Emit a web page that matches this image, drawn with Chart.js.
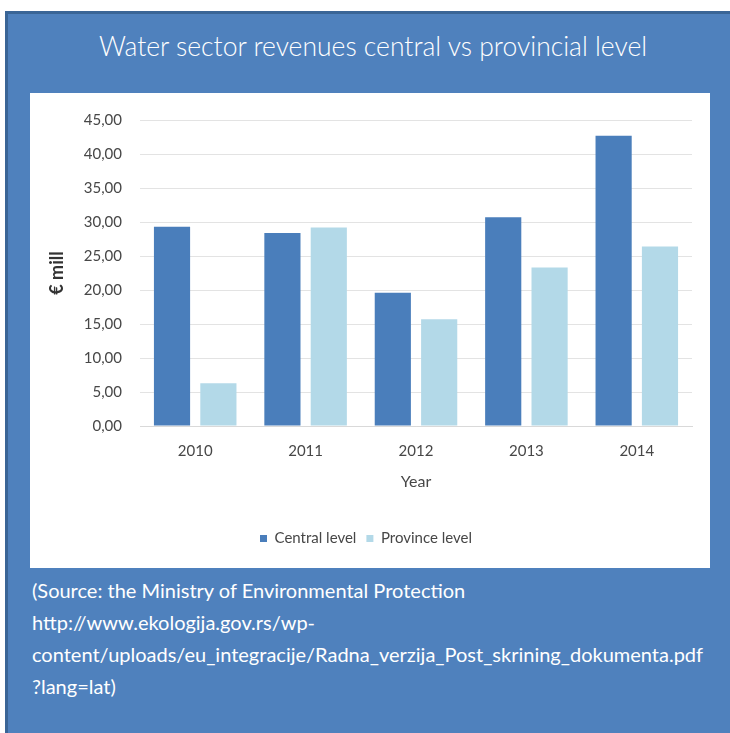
<!DOCTYPE html>
<html>
<head>
<meta charset="utf-8">
<script src="https://cdn.jsdelivr.net/npm/chart.js@4/dist/chart.umd.min.js"></script>
<style>
  body { margin: 0; background: #ffffff; width: 730px; height: 733px; overflow: hidden; position: relative; font-family: Lato, "Open Sans", sans-serif; }
  #frame { position: absolute; left: 5px; top: 11px; width: 740px; height: 740px; background: #4f81bd; border-left: 3px solid #3a6596; border-top: 3px solid #3a6596; box-sizing: border-box; }
  #title { position: absolute; left: 0; top: 46px; width: 746px; text-align: center; color: #ffffff; font-size: 26.5px; font-weight: 300; line-height: 1; transform: translateY(-50%); }
  #panel { position: absolute; left: 30px; top: 93px; width: 680px; height: 475px; background: #ffffff; }
  #source { position: absolute; left: 32px; top: 574px; color: #ffffff; font-size: 20px; line-height: 32px; }
</style>
</head>
<body>
<div id="frame"></div>
<div id="title">Water sector revenues central vs provincial level</div>
<div id="panel"><canvas id="chart" width="680" height="475"></canvas></div>
<div id="source">(Source: the Ministry of Environmental Protection<br>http://www.ekologija.gov.rs/wp-<br>content/uploads/eu_integracije/Radna_verzija_Post_skrining_dokumenta.pdf<br>?lang=lat)</div>
<script>
// Data
const years = ['2010', '2011', '2012', '2013', '2014'];
const centralLevel = [29.3, 28.4, 19.6, 30.7, 42.7];
const provinceLevel = [6.3, 29.2, 15.7, 23.3, 26.4];
const yTicks = [0, 5, 10, 15, 20, 25, 30, 35, 40, 45];

const textColor = '#474747';
const chartFont = 'Lato, "Open Sans", sans-serif';

const ctx = document.getElementById('chart').getContext('2d');
const chart = new Chart(ctx, {
    type: 'bar',
    data: {
        labels: years,
        datasets: [
            { label: 'Central level', data: centralLevel, backgroundColor: '#4a7ebb' },
            { label: 'Province level', data: provinceLevel, backgroundColor: '#b3d9e8' }
        ]
    },
    options: {
        responsive: false,
        animation: false,
        devicePixelRatio: 1,
        categoryPercentage: 0.84,
        barPercentage: 0.78,
        layout: { padding: { left: 10, top: 24, right: 18, bottom: 12 } },
        plugins: {
            legend: {
                position: 'bottom',
                labels: { boxWidth: 7, boxHeight: 7, padding: 10, color: textColor, font: { family: chartFont, size: 15 } }
            },
            tooltip: { enabled: false }
        },
        scales: {
            x: {
                grid: { display: false, drawTicks: false },
                border: { color: '#d9d9d9' },
                ticks: { color: textColor, padding: 16, font: { family: chartFont, size: 15 } },
                title: { display: true, text: 'Year', color: textColor, font: { family: chartFont, size: 16 }, padding: { top: 0, bottom: 30 } },
                afterFit: scale => { scale.height = 95; }
            },
            y: {
                min: 0,
                max: 45,
                afterBuildTicks: scale => { scale.ticks = yTicks.map(v => ({ value: v })); },
                grid: { color: '#e3e3e3', drawTicks: false },
                border: { display: false },
                ticks: {
                    color: textColor, padding: 18, font: { family: chartFont, size: 15 },
                    callback: v => v.toFixed(2).replace('.', ',')
                },
                title: { display: true, text: '€ mill', color: '#333333', font: { family: chartFont, size: 18, weight: 'bold' }, padding: { top: 6, bottom: 0 } },
                afterFit: scale => { scale.width = 100; }
            }
        }
    }
});
</script>
</body>
</html>
